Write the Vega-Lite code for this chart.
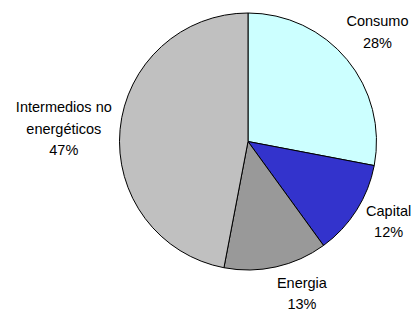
{
  "$schema": "https://vega.github.io/schema/vega-lite/v6.json",
  "width": 340,
  "height": 283,
  "autosize": {"type": "none"},
  "padding": {"left": 78, "top": 0, "right": 0, "bottom": 26},
  "background": "white",
  "config": {"view": {"stroke": null}, "text": {"font": "Liberation Sans", "fontSize": 14.5, "lineHeight": 21.5}},
  "data": {
    "values": [
      {"Categoria": "Consumo", "Porcentaje": 28, "orden": 1, "etiqueta": "Consumo\n28%"},
      {"Categoria": "Capital", "Porcentaje": 12, "orden": 2, "etiqueta": "Capital\n12%"},
      {"Categoria": "Energia", "Porcentaje": 13, "orden": 3, "etiqueta": "Energia\n13%"},
      {"Categoria": "Intermedios no energéticos", "Porcentaje": 47, "orden": 4, "etiqueta": "Intermedios no\nenergéticos\n47%"}
    ]
  },
  "encoding": {
    "theta": {"field": "Porcentaje", "type": "quantitative", "stack": true},
    "order": {"field": "orden", "type": "quantitative"}
  },
  "layer": [
    {
      "mark": {"type": "arc", "outerRadius": 128.5, "stroke": "black", "strokeWidth": 1},
      "encoding": {
        "color": {
          "field": "Categoria", "type": "nominal", "legend": null,
          "scale": {"domain": ["Consumo", "Capital", "Energia", "Intermedios no energéticos"], "range": ["#CCFFFF", "#3333CC", "#999999", "#C0C0C0"]}
        }
      }
    },
    {
      "mark": {"type": "text", "radius": 168, "dy": -12, "lineBreak": "\n", "color": "black", "align": "center", "baseline": "middle"},
      "encoding": {"text": {"condition": {"test": "datum.Categoria === 'Consumo'", "field": "etiqueta"}, "value": ""}}
    },
    {
      "mark": {"type": "text", "radius": 163, "dx": 3, "dy": -17, "lineBreak": "\n", "color": "black", "align": "center", "baseline": "middle"},
      "encoding": {"text": {"condition": {"test": "datum.Categoria === 'Capital'", "field": "etiqueta"}, "value": ""}}
    },
    {
      "mark": {"type": "text", "radius": 160, "dx": 19, "dy": -14, "lineBreak": "\n", "color": "black", "align": "center", "baseline": "middle"},
      "encoding": {"text": {"condition": {"test": "datum.Categoria === 'Energia'", "field": "etiqueta"}, "value": ""}}
    },
    {
      "mark": {"type": "text", "radius": 185, "dy": -16, "lineBreak": "\n", "color": "black", "align": "center", "baseline": "middle"},
      "encoding": {"text": {"condition": {"test": "datum.Categoria === 'Intermedios no energéticos'", "field": "etiqueta"}, "value": ""}}
    }
  ]
}
